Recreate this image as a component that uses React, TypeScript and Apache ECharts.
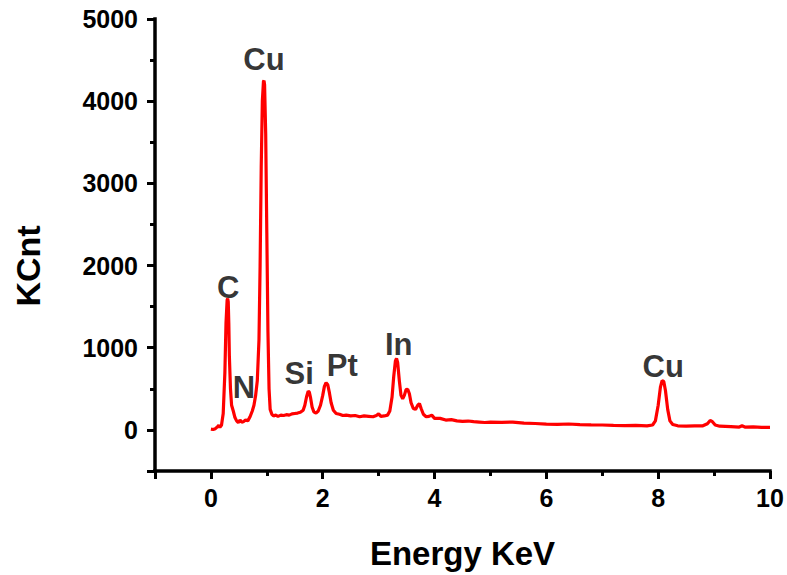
import React, { useEffect, useRef } from 'react';
import * as echarts from 'echarts';

const energyKeV = [
  0.0, 0.04, 0.08, 0.12, 0.14, 0.16, 0.19, 0.22, 0.25, 0.27, 0.29, 0.3, 0.31, 0.32, 0.33, 0.35, 0.37, 0.4, 0.43, 0.46,
  0.49, 0.52, 0.55, 0.58, 0.62, 0.66, 0.7, 0.74, 0.77, 0.8, 0.83, 0.86, 0.88, 0.9, 0.92, 0.94, 0.95, 0.96, 0.98, 1.0,
  1.02, 1.04, 1.06, 1.09, 1.12, 1.16, 1.2, 1.25, 1.3, 1.35, 1.4, 1.45, 1.5, 1.55, 1.6, 1.65, 1.68, 1.71, 1.74, 1.76,
  1.78, 1.81, 1.84, 1.88, 1.92, 1.96, 2.0, 2.03, 2.06, 2.09, 2.12, 2.15, 2.19, 2.24, 2.3, 2.36, 2.42, 2.5, 2.58, 2.66,
  2.74, 2.82, 2.9, 2.96, 3.0, 3.04, 3.1, 3.16, 3.2, 3.24, 3.27, 3.3, 3.32, 3.34, 3.37, 3.4, 3.43, 3.46, 3.49, 3.52,
  3.55, 3.58, 3.62, 3.66, 3.7, 3.73, 3.76, 3.8, 3.85, 3.9, 3.95, 4.0, 4.1, 4.2, 4.3, 4.4, 4.5, 4.6, 4.7, 4.8,
  4.9, 5.0, 5.2, 5.4, 5.6, 5.8, 6.0, 6.2, 6.4, 6.6, 6.8, 7.0, 7.2, 7.4, 7.6, 7.8, 7.9, 7.95, 8.0, 8.04,
  8.07, 8.1, 8.13, 8.17, 8.21, 8.26, 8.35, 8.5, 8.65, 8.8, 8.88, 8.93, 8.97, 9.02, 9.1, 9.3, 9.45, 9.5, 9.55, 9.7,
  9.85, 10.0,
];

const counts = [
  10, 5, 15, 40, 55, 30, 60, 200, 700, 1300, 1580, 1600, 1560, 1300, 900, 500, 300, 230, 150, 110,
  90, 120, 95, 100, 120, 110, 160, 230, 300, 420, 600, 1100, 2000, 3200, 4000, 4240, 4250, 4200, 3600, 2400,
  1200, 500, 250, 190, 170, 180, 165, 180, 175, 185, 180, 195, 200, 205, 215, 240, 300, 400, 470, 460,
  400, 280, 220, 205, 230, 300, 420, 530, 575, 550, 450, 330, 240, 200, 190, 175, 180, 170, 175, 160,
  170, 165, 160, 175, 195, 165, 170, 180, 230, 400, 650, 840, 870, 820, 600, 420, 380, 420, 490, 495,
  440, 330, 260, 250, 300, 320, 260, 190, 160, 165, 180, 140, 140, 120, 125, 110, 105, 108, 100, 95,
  90, 95, 92, 95, 82, 78, 70, 68, 72, 65, 62, 60, 55, 52, 55, 50, 60, 110, 300, 520,
  600, 590, 480, 250, 110, 65, 50, 45, 48, 50, 75, 115, 100, 60, 45, 40, 35, 50, 35, 38,
  30, 32,
];

const xTickLabels = [0, 2, 4, 6, 8, 10];
const xMinorTicks = [1, 3, 5, 7, 9];
const yTickLabels = [0, 1000, 2000, 3000, 4000, 5000];
const yMinorTicks = [500, 1500, 2500, 3500, 4500];

const peakNames = ['C', 'N', 'Cu', 'Si', 'Pt', 'In', 'Cu'];
const peakEnergy = [0.31, 0.59, 0.95, 1.58, 2.35, 3.36, 8.09];
const peakLabelY = [1735, 510, 4502, 692, 789, 1044, 777];

const FONT = 'Arial, "Liberation Sans", Helvetica, sans-serif';

export default function App() {
  const ref = useRef<HTMLDivElement>(null);

  useEffect(() => {
    if (!ref.current) return;
    const chart = echarts.init(ref.current, undefined, { renderer: 'svg' });
    const axisLineStyle = { color: '#000', width: 3.5, cap: 'square' as const };
    const tickStyle = { color: '#000', width: 3 };
    const tickLabel = {
      fontSize: 25,
      fontWeight: 'bold' as const,
      color: '#000',
      fontFamily: FONT,
      formatter: (v: number) => String(v),
    };
    const nameStyle = { fontSize: 33, fontWeight: 'bold' as const, color: '#000', fontFamily: FONT };

    chart.setOption({
      animation: false,
      backgroundColor: '#fff',
      grid: { left: 155, right: 17, top: 19, bottom: 103, containLabel: false },
      xAxis: [
        {
          type: 'value',
          min: -1,
          max: 10,
          position: 'bottom',
          axisLine: { show: true, onZero: false, lineStyle: axisLineStyle },
          axisTick: { show: true, customValues: [-1, ...xTickLabels], length: 8, lineStyle: tickStyle },
          axisLabel: { show: true, customValues: xTickLabels, margin: 14, ...tickLabel },
          splitLine: { show: false },
          name: 'Energy KeV',
          nameLocation: 'middle',
          nameGap: 66,
          nameTextStyle: nameStyle,
        },
        {
          type: 'value',
          min: -1,
          max: 10,
          position: 'bottom',
          axisLine: { show: false, onZero: false },
          axisTick: { show: true, customValues: xMinorTicks, length: 5, lineStyle: tickStyle },
          axisLabel: { show: false },
          splitLine: { show: false },
        },
      ],
      yAxis: [
        {
          type: 'value',
          min: -500,
          max: 5000,
          position: 'left',
          axisLine: { show: true, onZero: false, lineStyle: axisLineStyle },
          axisTick: { show: true, customValues: [-500, ...yTickLabels], length: 8, lineStyle: tickStyle },
          axisLabel: { show: true, customValues: yTickLabels, margin: 17, ...tickLabel },
          splitLine: { show: false },
          name: 'KCnt',
          nameLocation: 'middle',
          nameGap: 110,
          nameTextStyle: { ...nameStyle, fontSize: 34, padding: [0, 42, 0, 0] },
        },
        {
          type: 'value',
          min: -500,
          max: 5000,
          position: 'left',
          axisLine: { show: false, onZero: false },
          axisTick: { show: true, customValues: yMinorTicks, length: 5, lineStyle: tickStyle },
          axisLabel: { show: false },
          splitLine: { show: false },
        },
      ],
      series: [
        {
          type: 'line',
          xAxisIndex: 0,
          yAxisIndex: 0,
          data: energyKeV.map((e, i) => [e, counts[i]]),
          showSymbol: false,
          symbol: 'none',
          lineStyle: { color: '#ff0000', width: 3.2 },
          itemStyle: { color: '#ff0000' },
          silent: true,
        },
        {
          type: 'scatter',
          xAxisIndex: 0,
          yAxisIndex: 0,
          symbolSize: 0,
          silent: true,
          data: peakNames.map((n, i) => ({ name: n, value: [peakEnergy[i], peakLabelY[i]] })),
          label: {
            show: true,
            position: 'inside',
            formatter: (p: any) => p.name,
            fontSize: 31,
            fontWeight: 'bold',
            color: '#000',
            fontFamily: FONT,
          },
        },
      ],
    });
    return () => chart.dispose();
  }, []);

  return (
    <div
      ref={ref}
      style={{ position: 'fixed', left: 0, top: 0, width: 787, height: 575, background: '#fff' }}
    />
  );
}
